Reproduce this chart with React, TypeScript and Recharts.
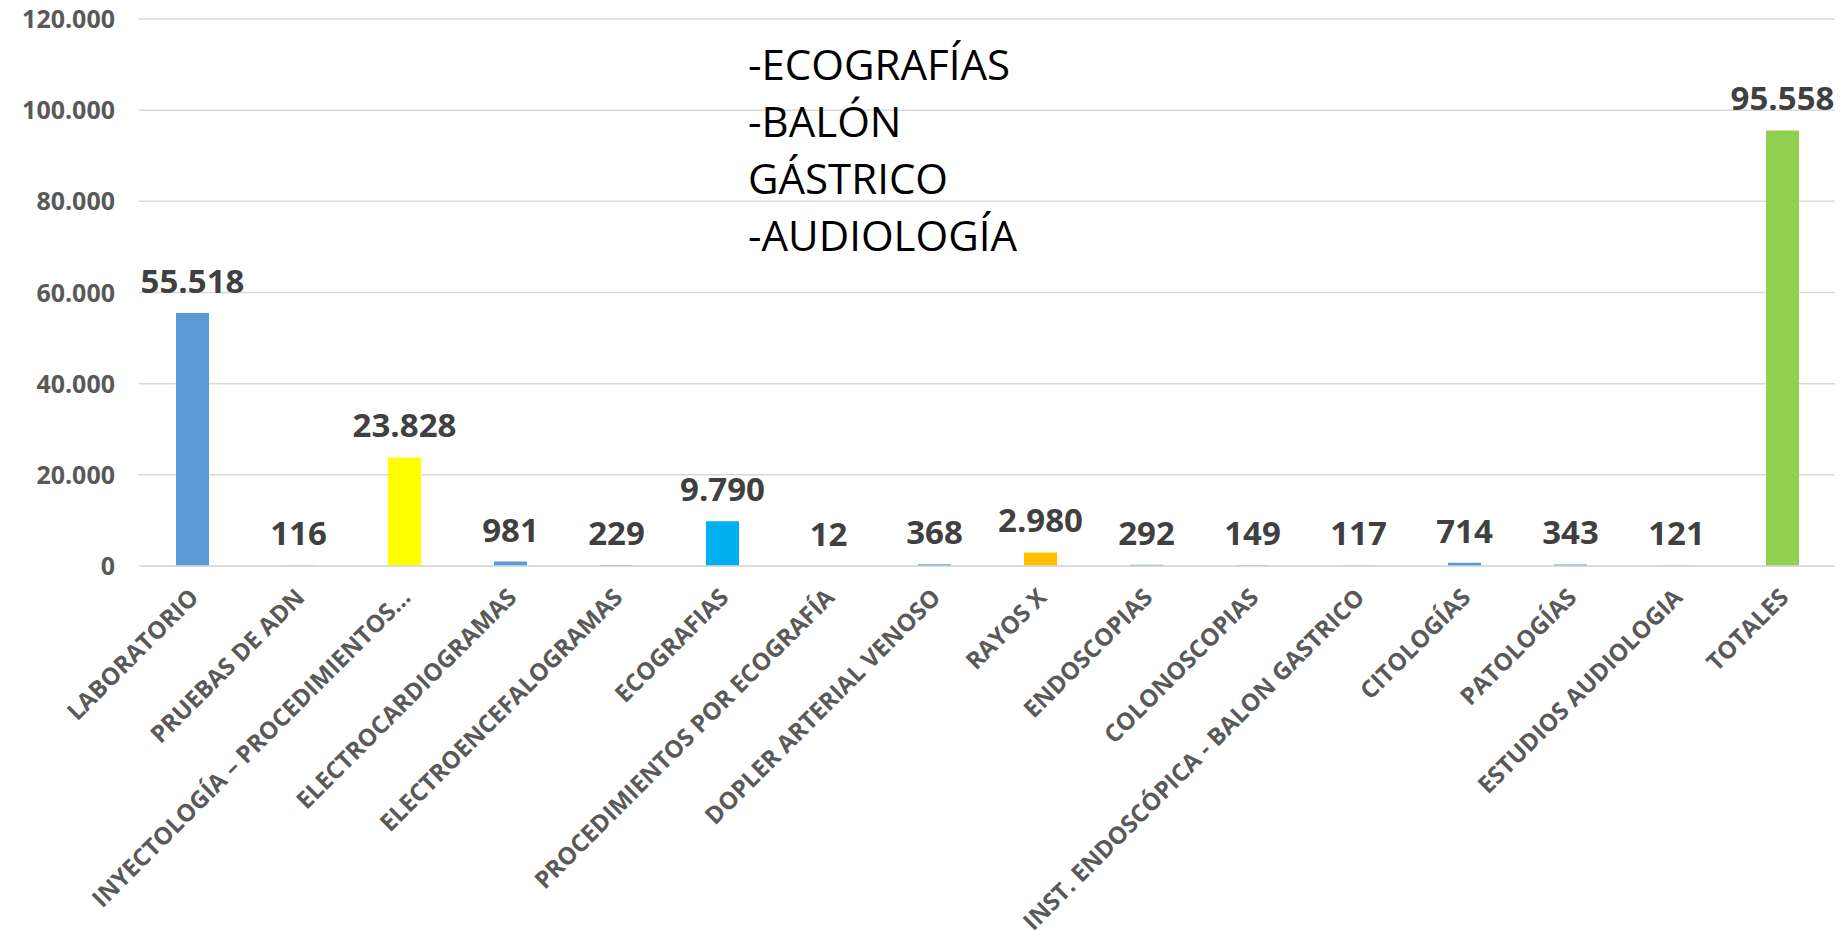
import React from "react";
import { BarChart, Bar, XAxis, YAxis, CartesianGrid, Cell, LabelList } from "recharts";

const categories = [
  "LABORATORIO",
  "PRUEBAS DE ADN",
  "INYECTOLOGÍA – PROCEDIMIENTOS…",
  "ELECTROCARDIOGRAMAS",
  "ELECTROENCEFALOGRAMAS",
  "ECOGRAFIAS",
  "PROCEDIMIENTOS POR ECOGRAFÍA",
  "DOPLER ARTERIAL VENOSO",
  "RAYOS X",
  "ENDOSCOPIAS",
  "COLONOSCOPIAS",
  "INST. ENDOSCÓPICA - BALON GASTRICO",
  "CITOLOGÍAS",
  "PATOLOGÍAS",
  "ESTUDIOS AUDIOLOGIA",
  "TOTALES",
];

const values = [55518, 116, 23828, 981, 229, 9790, 12, 368, 2980, 292, 149, 117, 714, 343, 121, 95558];

const barColors = [
  "#5B9BD5", "#5B9BD5", "#FFFF00", "#5B9BD5", "#5B9BD5", "#00B0F0", "#5B9BD5", "#5B9BD5",
  "#FFC000", "#5B9BD5", "#5B9BD5", "#5B9BD5", "#5B9BD5", "#5B9BD5", "#5B9BD5", "#92D050",
];

const yTicks = [0, 20000, 40000, 60000, 80000, 100000, 120000];

const noteLines = ["-ECOGRAFÍAS", "-BALÓN", "GÁSTRICO", "-AUDIOLOGÍA"];

const data = categories.map((name, i) => ({ name, value: values[i] }));

const fmt = (v: number) => String(v).replace(/\B(?=(\d{3})+(?!\d))/g, ".");

const FONT = "'Open Sans', sans-serif";
const PLOT_BOTTOM = 566;

const YTick = (props: any) => {
  const { y, payload } = props;
  return (
    <text x={115} y={y} dy="0.36em" textAnchor="end" fontFamily={FONT} fontWeight={700} fontSize={25} fill="#595959">
      {fmt(payload.value)}
    </text>
  );
};

const XTick = (props: any) => {
  const { x, payload } = props;
  return (
    <g transform={`translate(${x + 8},${PLOT_BOTTOM + 33})`}>
      <text x={0} y={0} textAnchor="end" transform="rotate(-45)" fontFamily={FONT} fontWeight={700} fontSize={24} fill="#595959">
        {payload.value}
      </text>
    </g>
  );
};

const ValueLabel = (props: any) => {
  const { x, y, width, value } = props;
  return (
    <text x={x + width / 2} y={y - 20} textAnchor="middle" fontFamily={FONT} fontWeight={700} fontSize={33} fill="#404040">
      {fmt(value)}
    </text>
  );
};

export default function App() {
  return (
    <div style={{ position: "absolute", left: 0, top: 0, width: 1842, height: 947, background: "#fff" }}>
      <BarChart width={1842} height={947} data={data} margin={{ top: 19, right: 7, left: 0, bottom: 0 }}>
        <CartesianGrid horizontal vertical={false} stroke="#D9D9D9" strokeWidth={1.5} />
        <YAxis
          width={139}
          domain={[0, 120000]}
          ticks={yTicks}
          axisLine={false}
          tickLine={false}
          tick={<YTick />}
          interval={0}
        />
        <XAxis
          dataKey="name"
          height={381}
          interval={0}
          axisLine={{ stroke: "#D9D9D9", strokeWidth: 1.5 }}
          tickLine={false}
          tick={<XTick />}
        />
        <Bar dataKey="value" barSize={33} isAnimationActive={false}>
          {data.map((d, i) => (
            <Cell key={d.name} fill={barColors[i]} />
          ))}
          <LabelList dataKey="value" content={<ValueLabel />} />
        </Bar>
      </BarChart>
      <svg width={1842} height={947} style={{ position: "absolute", left: 0, top: 0, pointerEvents: "none" }}>
        {noteLines.map((t, i) => (
          <text key={t} x={748} y={80 + i * 57} fontFamily={FONT} fontSize={42} fill="#000">
            {t}
          </text>
        ))}
      </svg>
    </div>
  );
}
